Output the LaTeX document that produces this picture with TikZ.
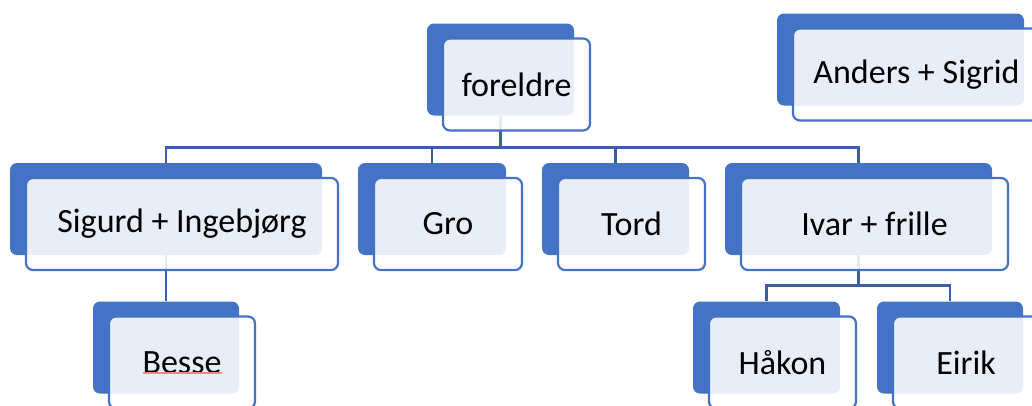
\documentclass[tikz,border=0pt]{standalone}
\usepackage{fontspec}
\setmainfont{Carlito}
\usepackage{xcolor}
\definecolor{boxblue}{HTML}{4472C4}
\definecolor{linkblue}{HTML}{3B5EA6}
\definecolor{spellred}{HTML}{EE8888}
\pgfdeclarelayer{background}
\pgfsetlayers{background,main}
\tikzset{
  backbox/.style={fill=boxblue, rounded corners=7pt, minimum height=92pt, inner sep=0pt},
  frontbox/.style={draw=boxblue, line width=2.2pt, fill=white, fill opacity=0.88, text opacity=1,
    rounded corners=7pt, minimum height=92pt, inner sep=0pt, font=\fontsize{34}{40}\selectfont},
  link/.style={draw=linkblue, line width=2.4pt}
}

\begin{document}
\begin{tikzpicture}[x=1pt,y=-1pt]
\useasboundingbox (0,0) rectangle (1032,405);
\clip (0,0) rectangle (1032,405);
\node[backbox, minimum width=147pt] (foreldre) at (500.5,69.5) {};
\node[frontbox, minimum width=147pt] (foreldre-t) at ([shift={(16,15)}]foreldre.center) {foreldre};
\node[backbox, minimum width=247pt] (anders) at (900.5,59.5) {};
\node[frontbox, minimum width=247pt] (anders-t) at ([shift={(16,15)}]anders.center) {Anders + Sigrid};
\node[backbox, minimum width=312pt] (sigurd) at (166,209) {};
\node[frontbox, minimum width=312pt] (sigurd-t) at ([shift={(16,15)}]sigurd.center) {Sigurd + Ingebjørg};
\node[backbox, minimum width=148pt] (gro) at (432,209) {};
\node[frontbox, minimum width=148pt] (gro-t) at ([shift={(16,15)}]gro.center) {Gro};
\node[backbox, minimum width=147pt] (tord) at (615.5,209) {};
\node[frontbox, minimum width=147pt] (tord-t) at ([shift={(16,15)}]tord.center) {Tord};
\node[backbox, minimum width=267pt] (ivar) at (858.5,209) {};
\node[frontbox, minimum width=267pt] (ivar-t) at ([shift={(16,15)}]ivar.center) {Ivar + frille};
\node[backbox, minimum width=146pt] (besse) at (166,347.5) {};
\node[frontbox, minimum width=146pt] (besse-t) at ([shift={(16,15)}]besse.center) {Besse};
\node[backbox, minimum width=147pt] (hakon) at (766.5,347.5) {};
\node[frontbox, minimum width=147pt] (hakon-t) at ([shift={(16,15)}]hakon.center) {Håkon};
\node[backbox, minimum width=146pt] (eirik) at (950,347.5) {};
\node[frontbox, minimum width=146pt] (eirik-t) at ([shift={(16,15)}]eirik.center) {Eirik};
\draw[spellred, line width=1.2pt] ([shift={(-39,10.5)}]besse-t.center) -- ([shift={(40,10.5)}]besse-t.center);
\begin{pgfonlayer}{background}
\coordinate (bar1) at (500.5,147.5);
\coordinate (bar2) at (858.5,285.5);
\draw[link] (foreldre.south) -- (bar1);
\foreach \kid in {sigurd,gro,tord,ivar}
  \draw[link] (bar1) -| (\kid.north);
\draw[link] (sigurd.south) -- (besse.north);
\draw[link] (ivar.south) -- (bar2);
\foreach \kid in {hakon,eirik}
  \draw[link] (bar2) -| (\kid.north);
\end{pgfonlayer}
\end{tikzpicture}
\end{document}
